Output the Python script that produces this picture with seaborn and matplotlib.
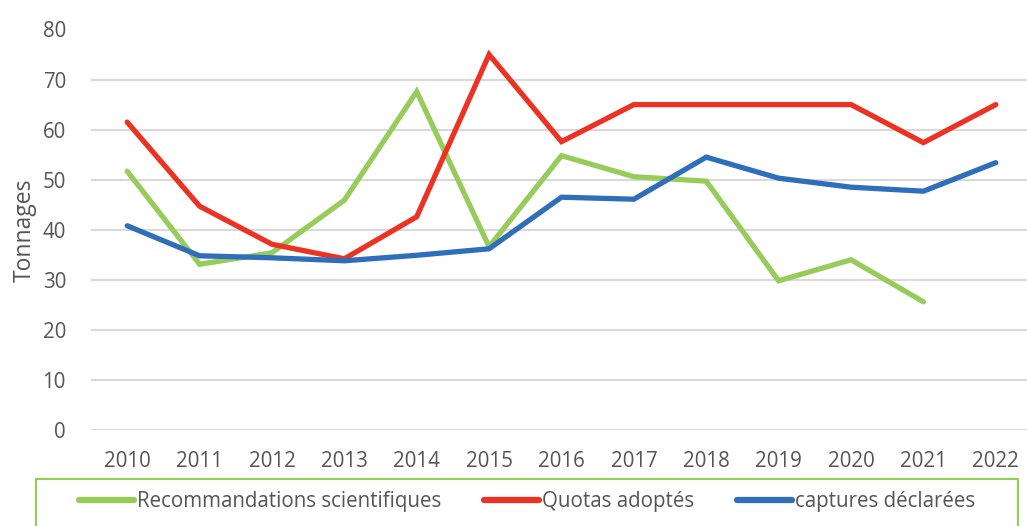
import numpy as np
import pandas as pd
import matplotlib
matplotlib.use("Agg")
import matplotlib.pyplot as plt
from matplotlib.patches import Rectangle
from matplotlib.lines import Line2D
import seaborn as sns

years = [2010, 2011, 2012, 2013, 2014, 2015, 2016, 2017, 2018, 2019, 2020, 2021, 2022]
recommandations = [51.7, 33.1, 35.4, 45.9, 67.6, 36.6, 54.8, 50.6, 49.7, 29.8, 34.0, 25.6, np.nan]
quotas = [61.5, 44.7, 37.1, 34.2, 42.6, 75.0, 57.6, 65.0, 65.0, 65.0, 65.0, 57.4, 65.0]
captures = [40.8, 34.8, 34.4, 33.8, 34.9, 36.2, 46.5, 46.1, 54.5, 50.3, 48.5, 47.7, 53.4]
series_names = ["Recommandations scientifiques", "Quotas adoptés", "captures déclarées"]
colors = ["#97CC5A", "#EC3323", "#2F6EBA"]

sns.set_style("white")
plt.rcParams["font.family"] = ["Open Sans", "DejaVu Sans"]
text_color = "#555555"
fs = 14.8

rows = []
for name, vals in zip(series_names, [recommandations, quotas, captures]):
    for i, v in enumerate(vals):
        rows.append({"pos": i, "year": str(years[i]), "value": v, "series": name})
df = pd.DataFrame(rows).dropna()

fig = plt.figure(figsize=(10.27, 5.26), dpi=100)
ax = fig.add_axes([91 / 1027, 1 - 430 / 526, (1032 - 91) / 1027, (430 - 29.5) / 526])

sns.lineplot(data=df, x="pos", y="value", hue="series", hue_order=series_names,
             palette=colors, linewidth=3.8, ax=ax, legend=False, sort=False,
             solid_capstyle="round", solid_joinstyle="miter")

ax.set_xlim(-0.5, 12.5)
ax.set_ylim(0, 80)
ax.set_yticks(range(0, 81, 10))
ax.set_xticks(range(len(years)))
ax.set_xticklabels([str(y) for y in years])
ax.yaxis.grid(True, color="#D9D9D9", linewidth=1.5)
ax.xaxis.grid(False)
ax.set_axisbelow(True)
for s in ax.spines.values():
    s.set_visible(False)
ax.tick_params(axis="both", length=0, labelsize=fs, colors=text_color)
ax.tick_params(axis="y", pad=18)
ax.tick_params(axis="x", pad=15)
ax.set_xlabel("")
ax.set_ylabel("Tonnages", fontsize=16.5, color=text_color, labelpad=4)
for line in ax.get_lines():
    line.set_clip_on(False)

# legend frame
fig.patches.append(Rectangle((36 / 1027, -0.05), (1018 - 36) / 1027, (1 - 479 / 526) + 0.05,
                             transform=fig.transFigure, fill=False, edgecolor="#92D050",
                             linewidth=1.5))
handles = [Line2D([], [], color=c, linewidth=4.5, solid_capstyle="round") for c in colors]
fig.legend(handles, series_names, loc="center", bbox_to_anchor=(527 / 1027, 1 - 502 / 526),
           ncol=3, frameon=False, fontsize=fs, handlelength=2.65, handletextpad=0.15,
           columnspacing=2.1, labelcolor=text_color)

fig.savefig("out.png", dpi=100)
